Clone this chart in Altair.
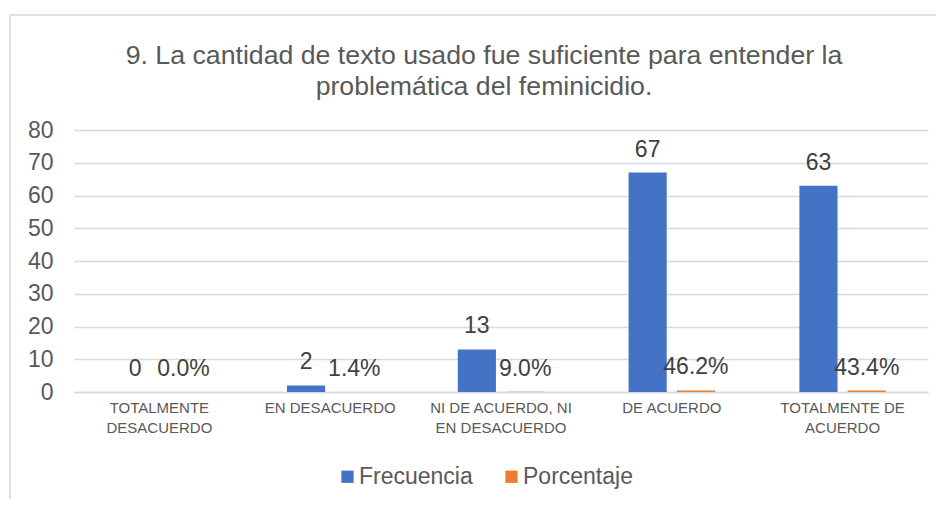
import altair as alt
import pandas as pd

categorias = [
    "TOTALMENTE\nDESACUERDO",
    "EN DESACUERDO",
    "NI DE ACUERDO, NI\nEN DESACUERDO",
    "DE ACUERDO",
    "TOTALMENTE DE\nACUERDO",
]
series = ["Frecuencia", "Porcentaje"]
frecuencia = [0, 2, 13, 67, 63]
porcentaje = [0.000, 0.014, 0.090, 0.462, 0.434]
colores = ["#4472C4", "#ED7D31"]
ticks_y = [0, 10, 20, 30, 40, 50, 60, 70, 80]
titulo = ["9. La cantidad de texto usado fue suficiente para entender la",
          "problemática del feminicidio."]

rows = []
for c, f, p in zip(categorias, frecuencia, porcentaje):
    rows.append({"categoria": c, "serie": series[0], "valor": f, "etiqueta": f"{f}"})
    rows.append({"categoria": c, "serie": series[1], "valor": p, "etiqueta": f"{p*100:.1f}%"})
df = pd.DataFrame(rows)

W, H = 854, 262

x = alt.X("categoria:N", sort=categorias,
          scale=alt.Scale(paddingInner=0.494, paddingOuter=0.247),
          axis=alt.Axis(title=None, labelAngle=0, labelExpr="split(datum.label, '\\n')",
                        labelFontSize=15, labelColor="#595959", labelLineHeight=20,
                        labelPadding=8, ticks=False, domainColor="#D9D9D9",
                        domainWidth=1.3, labelLimit=200))
xo = alt.XOffset("serie:N", sort=series,
                 scale=alt.Scale(paddingInner=0.21, paddingOuter=0))
y = alt.Y("valor:Q", scale=alt.Scale(domain=[0, 80]),
          axis=alt.Axis(title=None, values=ticks_y, ticks=False, domain=False,
                        labelOverlap=False,
                        labelFontSize=23, labelColor="#595959", labelPadding=21,
                        gridColor="#D9D9D9", gridWidth=1.3))

base = alt.Chart(df)

bars = base.mark_bar().encode(
    x=x, xOffset=xo, y=y,
    color=alt.Color("serie:N", sort=series,
                    scale=alt.Scale(domain=series, range=colores),
                    legend=alt.Legend(title=None, orient="none", legendX=262, legendY=335,
                                      direction="horizontal", symbolType="square",
                                      symbolSize=150, symbolStrokeWidth=0,
                                      labelFontSize=23, labelColor="#595959",
                                      labelOffset=0, columnPadding=27)),
)

labels = base.mark_text(fontSize=23, color="#404040", baseline="alphabetic", dy=-16).encode(
    x=x, xOffset=xo, y=y, text="etiqueta:N"
)

border = alt.Chart(alt.Data(values=[{"b": 1}])).mark_rect(
    fillOpacity=0, stroke="#D9D9D9", strokeWidth=1.5
).encode(x=alt.value(-64), x2=alt.value(W + 40), y=alt.value(-115), y2=alt.value(H + 200))

chart = alt.layer(border, bars, labels).properties(
    width=W, height=H,
    title=alt.Title(titulo, fontSize=26.7, color="#595959", fontWeight="normal",
                    lineHeight=31, anchor="middle", dx=-17, offset=-86),
    autosize=alt.AutoSizeParams(type="none"),
    padding={"left": 66, "top": 122, "right": 8, "bottom": 107},
).configure(font="Liberation Sans").configure_view(stroke=None)

chart.save("out.html", embed_options={"renderer": "svg", "actions": False})
